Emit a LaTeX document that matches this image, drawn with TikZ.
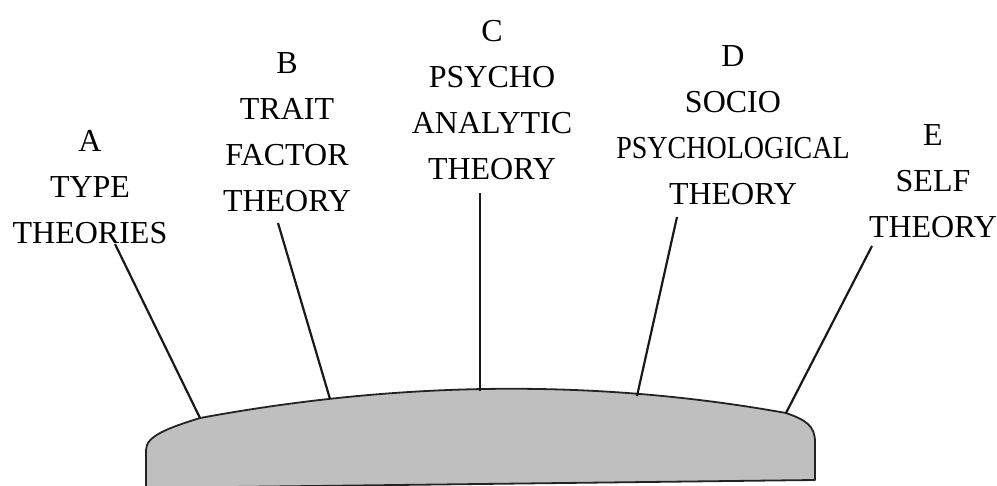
\documentclass[tikz,border=0pt]{standalone}
\usepackage{fontspec}
\setmainfont{Liberation Serif}
\usepackage{graphicx}
\definecolor{shapegray}{RGB}{191,191,191}
\definecolor{edgegray}{RGB}{35,35,35}
\begin{document}
\begin{tikzpicture}[x=1pt,y=-1pt,
  lbl/.style={align=center,inner sep=0pt,anchor=base,font=\fontsize{32}{46}\selectfont},
  conn/.style={line width=2.2pt,draw=black!90}]
\useasboundingbox (0,0) rectangle (997,486);
% base shape
\path[fill=shapegray,draw=edgegray,line width=1.8pt,line join=round]
  (146,488) -- (146,450)
  .. controls (146,436) and (168,428) .. (200,418)
  .. controls (395,382) and (591,378) .. (786,413)
  .. controls (806,420) and (815,426) .. (815,442)
  -- (815,480) -- (146,488);
% labels
\node[lbl] (la) at (90,244) {A\\TYPE\\THEORIES};
\node[lbl] (lb) at (287,212) {B\\TRAIT\\FACTOR\\THEORY};
\node[lbl] (lc) at (492,180) {C\\PSYCHO\\ANALYTIC\\THEORY};
\node[lbl] (ld) at (733,205) {D\\SOCIO\\\scalebox{0.875}[1]{PSYCHOLOGICAL}\\THEORY};
\node[lbl] (le) at (933,238) {E\\SELF\\THEORY};
% connector ends
\coordinate (a1) at (115,244); \coordinate (a2) at (200,418);
\coordinate (b1) at (278,223); \coordinate (b2) at (330,399);
\coordinate (c1) at (480,193); \coordinate (c2) at (480,391);
\coordinate (d1) at (677,217); \coordinate (d2) at (637,396);
\coordinate (e1) at (872,246); \coordinate (e2) at (786,413);
\draw[conn] (a1) -- (a2);
\draw[conn] (b1) -- (b2);
\draw[conn] (c1) -- (c2);
\draw[conn] (d1) -- (d2);
\draw[conn] (e1) -- (e2);
\end{tikzpicture}
\end{document}
